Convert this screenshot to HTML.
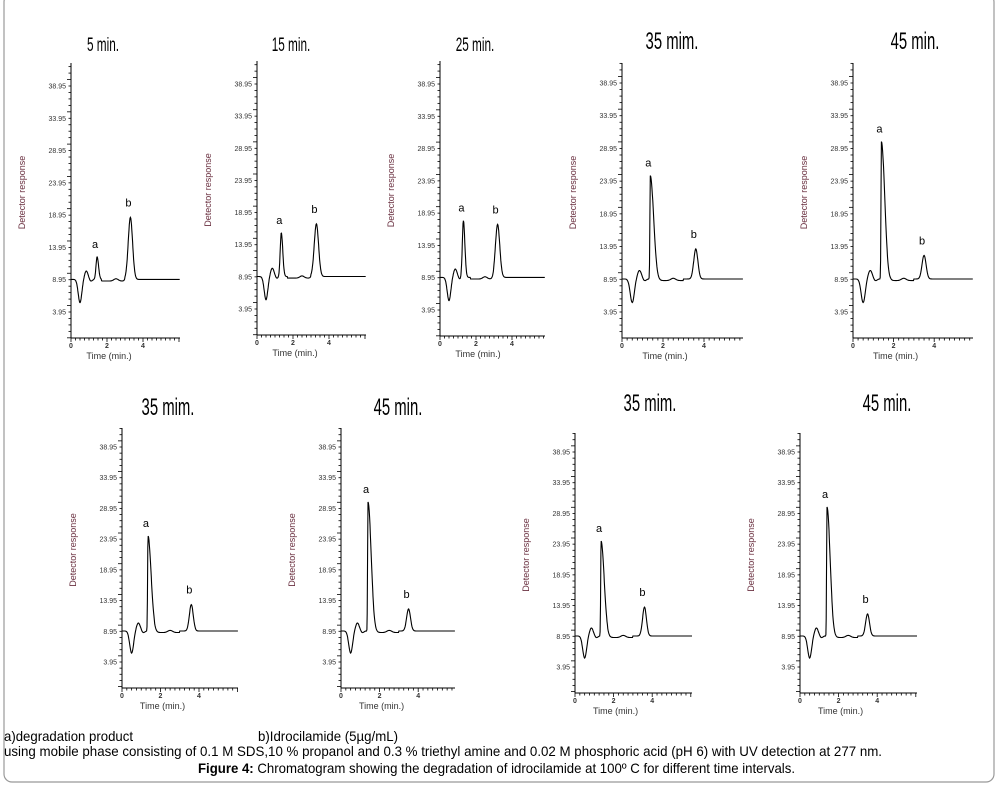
<!DOCTYPE html>
<html><head><meta charset="utf-8"><style>
body{margin:0;background:#fff;}
svg{display:block}
.t{font-family:"Liberation Sans Narrow","Liberation Sans",sans-serif;}
.s{font-family:"Liberation Sans",sans-serif;}
</style></head><body>
<svg id="c" width="1000" height="785" xmlns="http://www.w3.org/2000/svg">
<rect x="4" y="-6" width="990" height="788" rx="8" fill="none" stroke="#999" stroke-width="1.2"/>
<text class="t" x="4" y="741" font-size="14" textLength="129" lengthAdjust="spacingAndGlyphs">a)degradation product</text>
<text class="t" x="258" y="741" font-size="14" textLength="140" lengthAdjust="spacingAndGlyphs">b)Idrocilamide (5µg/mL)</text>
<text class="t" x="4" y="756" font-size="14" textLength="878" lengthAdjust="spacingAndGlyphs">using mobile phase consisting of 0.1 M SDS,10 % propanol and 0.3 % triethyl amine and 0.02 M phosphoric acid (pH 6) with UV   detection at 277 nm.</text>
<text class="t" x="198" y="773" font-size="14" textLength="597" lengthAdjust="spacingAndGlyphs"><tspan font-weight="bold">Figure 4:</tspan> Chromatogram showing the degradation of idrocilamide at 100º C for different time intervals.</text>
</svg>
<script>
var svg=document.getElementById('c');
var NS='http://www.w3.org/2000/svg';
function el(n,a,txt){var e=document.createElementNS(NS,n);for(var k in a)e.setAttribute(k,a[k]);if(txt!=null)e.textContent=txt;svg.appendChild(e);return e;}
function g(t,m,s){return Math.exp(-(t-m)*(t-m)/(2*s*s));}
var P=[
{x0:71,top:63,y38:86,y3:312,yAx:338,xEnd:180,ppm:18,title:"5 min.",tx:103,ty:51,fs:19,aH:12.5,aT:1.45,bH:18.6,bT:3.3,big:false},
{x0:257,top:61,y38:84,y3:309,yAx:335,xEnd:366,ppm:18,title:"15 min.",tx:291,ty:51,fs:19,aH:15.8,aT:1.35,bH:17.2,bT:3.3,big:false},
{x0:440,top:61,y38:84,y3:310,yAx:336,xEnd:545,ppm:18,title:"25 min.",tx:475,ty:51,fs:19,aH:17.8,aT:1.3,bH:17.2,bT:3.2,big:false},
{x0:622,top:63,y38:83,y3:312,yAx:338,xEnd:743,ppm:20.5,title:"35 mim.",tx:672,ty:49,fs:24,aH:24.8,aT:1.38,bH:13.6,bT:3.6,big:true},
{x0:853,top:63,y38:83,y3:312,yAx:338,xEnd:973,ppm:20.3,title:"45 min.",tx:915,ty:49,fs:24,aH:30,aT:1.4,bH:12.6,bT:3.5,big:true},
{x0:122,top:428,y38:447,y3:662,yAx:688,xEnd:238,ppm:19.25,title:"35 mim.",tx:168,ty:415,fs:24,aH:24.5,aT:1.35,bH:13.3,bT:3.6,big:true},
{x0:341,top:428,y38:447,y3:662,yAx:688,xEnd:455,ppm:19.3,title:"45 min.",tx:398,ty:415,fs:24,aH:30,aT:1.4,bH:12.6,bT:3.5,big:true},
{x0:575,top:433,y38:452,y3:667,yAx:693,xEnd:692,ppm:19.3,title:"35 mim.",tx:650,ty:411,fs:24,aH:24.5,aT:1.35,bH:13.7,bT:3.6,big:true},
{x0:800,top:433,y38:452,y3:667,yAx:693,xEnd:917,ppm:19.3,title:"45 min.",tx:887,ty:411,fs:24,aH:30,aT:1.4,bH:12.6,bT:3.5,big:true}
];
P.forEach(function(p){
 var sc=(p.y3-p.y38)/35;
 function Y(v){return p.y3-(v-3.95)*sc;}
 function X(t){return p.x0+t*p.ppm;}
 el('text',{class:'s','x':0,'y':0,'font-size':p.fs,'text-anchor':'middle',transform:'translate('+p.tx+' '+p.ty+') scale(0.62 1)'},p.title);
 el('line',{x1:p.x0,y1:p.top,x2:p.x0,y2:p.yAx,stroke:'#000','stroke-width':1});
 el('line',{x1:p.x0,y1:p.yAx,x2:p.xEnd,y2:p.yAx,stroke:'#000','stroke-width':1});
 for(var v=-1;v<=42;v+=1){var y=Y(v+0.95);if(y<p.top||y>p.yAx)continue;var maj=((v+1)%5==0);
  el('line',{x1:p.x0-(maj?4:2.5),y1:y,x2:p.x0,y2:y,stroke:'#000','stroke-width':0.8});}
 [3.95,8.95,13.95,18.95,23.95,28.95,33.95,38.95].forEach(function(v){
  el('text',{class:'s','x':p.x0-5,'y':Y(v)+2.5,'font-size':7,'text-anchor':'end',fill:'#333'},v.toFixed(2));});
 for(var t=0;t*p.ppm<=p.xEnd-p.x0+0.5;t+=0.25){var x=X(t);var maj=(Math.abs(t%2)<0.01);
  el('line',{x1:x,y1:p.yAx,x2:x,y2:p.yAx+(maj?4:2.5),stroke:'#000','stroke-width':0.8});}
 [0,2,4].forEach(function(t){el('text',{class:'s','x':X(t),'y':p.yAx+10,'font-size':7,'text-anchor':'middle','font-weight':'bold',fill:'#333'},t);});
 el('text',{class:'s','x':(p.x0+X(4))/2+2,'y':p.yAx+21,'font-size':9,'text-anchor':'middle',fill:'#333'},'Time (min.)');
 var yc=(p.top+p.yAx)/2-8, xl=p.x0-46;
 el('text',{class:'s','x':xl,'y':yc,'font-size':9,'text-anchor':'middle',fill:'#6a3040',transform:'rotate(-90 '+xl+' '+yc+')'},'Detector response');
 var pts=[];var tmax=(p.xEnd-p.x0)/p.ppm;
 for(var t=0;t<=tmax;t+=0.02){
  var v=9-3.6*g(t,0.5,0.1)+1.3*g(t,0.85,0.1)-0.3*g(t,1.1,0.08)+0.35*g(t,2.5,0.12)-0.25*(t>1.7&&t<3?1:0);
  var sl=p.big?0.02:0.06, sr=p.big?0.16:0.08;
  v+=(p.aH-9)*g(t,p.aT,t<p.aT?sl:sr);
  v+=(p.bH-9)*g(t,p.bT,p.big?0.1:0.12);
  pts.push(X(t).toFixed(1)+','+Y(v).toFixed(1));}
 el('polyline',{points:pts.join(' '),fill:'none',stroke:'#000','stroke-width':1.1});
 el('text',{class:'s','x':X(p.aT)-2,'y':Y(p.aH)-9,'font-size':11,'text-anchor':'middle'},'a');
 el('text',{class:'s','x':X(p.bT)-2,'y':Y(p.bH)-11,'font-size':11,'text-anchor':'middle'},'b');
});
</script>
</body></html>
